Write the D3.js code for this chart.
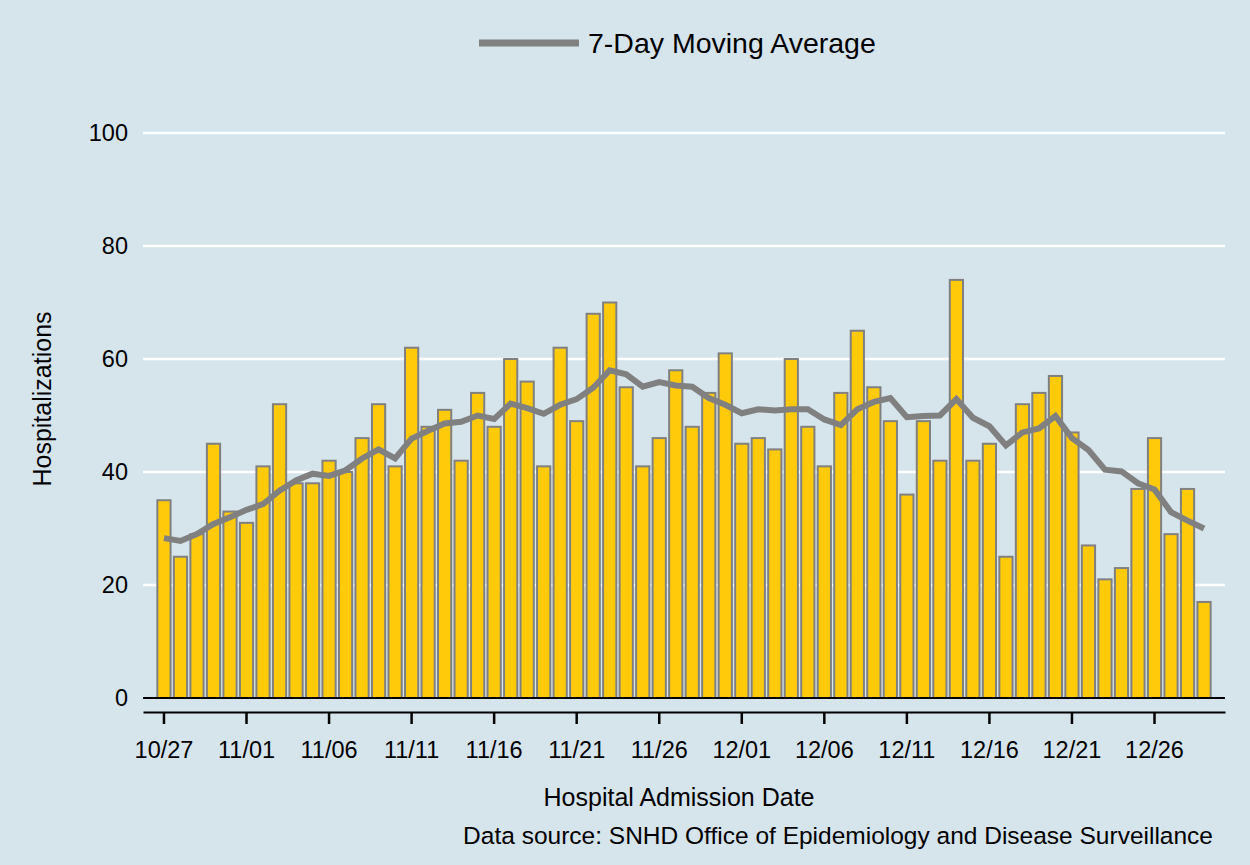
<!DOCTYPE html>
<html>
<head>
<meta charset="utf-8">
<script src="https://cdn.jsdelivr.net/npm/d3@7"></script>
<style>
  body { margin: 0; background: #d6e4eb; }
  text { font-family: "Liberation Sans", Arial, sans-serif; fill: #000; }
</style>
</head>
<body>
<script>
// daily hospital admissions, 10/27 - 12/29
var dates = [
  "10/27", "10/28", "10/29", "10/30", "10/31",
  "11/01", "11/02", "11/03", "11/04", "11/05", "11/06", "11/07", "11/08", "11/09", "11/10",
  "11/11", "11/12", "11/13", "11/14", "11/15", "11/16", "11/17", "11/18", "11/19", "11/20",
  "11/21", "11/22", "11/23", "11/24", "11/25", "11/26", "11/27", "11/28", "11/29", "11/30",
  "12/01", "12/02", "12/03", "12/04", "12/05", "12/06", "12/07", "12/08", "12/09", "12/10",
  "12/11", "12/12", "12/13", "12/14", "12/15", "12/16", "12/17", "12/18", "12/19", "12/20",
  "12/21", "12/22", "12/23", "12/24", "12/25", "12/26", "12/27", "12/28", "12/29"
];

var hospitalizations = [
  35, 25, 29, 45, 33,
  31, 41, 52, 38, 38, 42, 40, 46, 52, 41,
  62, 48, 51, 42, 54, 48, 60, 56, 41, 62,
  49, 68, 70, 55, 41, 46, 58, 48, 54, 61,
  45, 46, 44, 60, 48, 41, 54, 65, 55, 49,
  36, 49, 42, 74, 42, 45, 25, 52, 54, 57,
  47, 27, 21, 23, 37, 46, 29, 37, 17
];

var movingAvg = [
  28.3, 27.8, 29.0, 30.8, 32.0,
  33.3, 34.3, 36.7, 38.5, 39.7, 39.3, 40.3, 42.4, 44.0, 42.4,
  45.9, 47.3, 48.6, 48.9, 50.0, 49.4, 52.1, 51.3, 50.3, 51.9,
  52.9, 54.9, 58.0, 57.3, 55.1, 55.9, 55.3, 55.1, 53.1, 51.9,
  50.4, 51.1, 50.9, 51.1, 51.1, 49.3, 48.3, 51.1, 52.4, 53.1,
  49.7, 49.9, 50.0, 52.9, 49.6, 48.1, 44.7, 47.0, 47.7, 49.9,
  46.0, 43.9, 40.4, 40.1, 38.0, 36.9, 32.9, 31.4, 30.0
];

var xTickLabels = ["10/27", "11/01", "11/06", "11/11", "11/16", "11/21", "11/26",
                   "12/01", "12/06", "12/11", "12/16", "12/21", "12/26"];
var yTicks = [0, 20, 40, 60, 80, 100];

var width = 1250,
  height = 865,
  plotLeft = 143,
  plotRight = 1225,
  plotBottom = 698,
  plotTop = 133;

var barFill = "#ffca0a",
  barStroke = "#808080",
  lineColor = "#808080";

var svg = d3.select("body").append("svg")
  .attr("width", width)
  .attr("height", height);

svg.append("rect")
  .attr("width", width)
  .attr("height", height)
  .attr("fill", "#d6e4eb");

var x = d3.scaleBand()
  .domain(dates)
  .range([plotLeft, plotRight])
  .paddingInner(0.2)
  .paddingOuter(0.87);

var y = d3.scaleLinear()
  .domain([0, 100])
  .range([plotBottom, plotTop]);

function cx(d) { return x(d) + x.bandwidth() / 2; }

// gridlines
svg.append("g").selectAll("line")
  .data(yTicks.filter(function(t) { return t > 0; }))
  .enter().append("line")
  .attr("x1", plotLeft)
  .attr("x2", plotRight)
  .attr("y1", function(t) { return y(t); })
  .attr("y2", function(t) { return y(t); })
  .attr("stroke", "#fff")
  .attr("stroke-width", 2.5);

// y labels
svg.append("g").selectAll("text")
  .data(yTicks)
  .enter().append("text")
  .attr("x", 128)
  .attr("y", function(t) { return y(t); })
  .attr("dy", "0.35em")
  .attr("text-anchor", "end")
  .style("font-size", "23.5px")
  .text(function(t) { return t; });

// bars
svg.append("g").selectAll("rect")
  .data(hospitalizations)
  .enter().append("rect")
  .attr("x", function(d, i) { return x(dates[i]); })
  .attr("width", x.bandwidth())
  .attr("y", function(d) { return y(d); })
  .attr("height", function(d) { return y(0) - y(d); })
  .attr("fill", barFill)
  .attr("stroke", barStroke)
  .attr("stroke-width", 2);

// zero line
svg.append("line")
  .attr("x1", plotLeft)
  .attr("x2", plotRight)
  .attr("y1", y(0))
  .attr("y2", y(0))
  .attr("stroke", "#000")
  .attr("stroke-width", 2);

// moving average
var line = d3.line()
  .x(function(d, i) { return cx(dates[i]); })
  .y(function(d) { return y(d); });

svg.append("path")
  .datum(movingAvg)
  .attr("d", line)
  .attr("fill", "none")
  .attr("stroke", lineColor)
  .attr("stroke-width", 6);

// x axis, drawn a bit below the baseline
var xAxis = svg.append("g")
  .attr("transform", "translate(0,712)")
  .call(d3.axisBottom(x)
    .tickValues(xTickLabels)
    .tickSize(12)
    .tickSizeOuter(0)
    .tickPadding(17));

xAxis.select(".domain")
  .attr("stroke", "#000")
  .attr("stroke-width", 2);
xAxis.selectAll(".tick line")
  .attr("stroke", "#000")
  .attr("stroke-width", 2.5);
xAxis.selectAll(".tick text")
  .attr("fill", "#000")
  .style("font-family", "'Liberation Sans', Arial, sans-serif")
  .style("font-size", "23.5px");

// titles
svg.append("text")
  .attr("x", 679)
  .attr("y", 806)
  .attr("text-anchor", "middle")
  .style("font-size", "25px")
  .text("Hospital Admission Date");

svg.append("text")
  .attr("transform", "translate(51,399) rotate(-90)")
  .attr("text-anchor", "middle")
  .style("font-size", "25px")
  .text("Hospitalizations");

svg.append("text")
  .attr("x", 1213)
  .attr("y", 844)
  .attr("text-anchor", "end")
  .style("font-size", "24.5px")
  .text("Data source: SNHD Office of Epidemiology and Disease Surveillance");

// legend
var legend = svg.append("g");
legend.append("line")
  .attr("x1", 479)
  .attr("x2", 579)
  .attr("y1", 43)
  .attr("y2", 43)
  .attr("stroke", lineColor)
  .attr("stroke-width", 7);
legend.append("text")
  .attr("x", 588)
  .attr("y", 43)
  .attr("dy", "0.35em")
  .style("font-size", "28.5px")
  .text("7-Day Moving Average");
</script>
</body>
</html>
